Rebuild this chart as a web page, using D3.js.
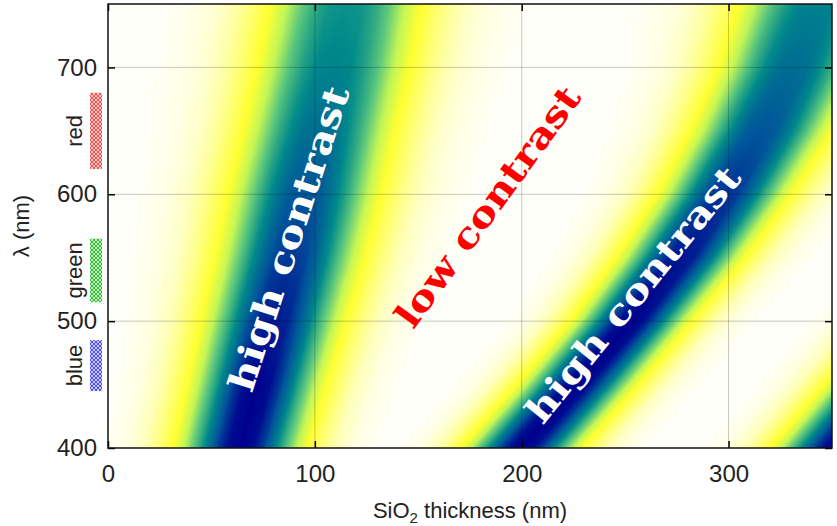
<!DOCTYPE html>
<html>
<head>
<meta charset="utf-8">
<script src="https://cdn.jsdelivr.net/npm/d3@7"></script>
<style>
  body { margin: 0; background: #fff; }
  svg { display: block; }
</style>
</head>
<body>
<div id="chart"></div>
<script>
const lambdaRows = [400, 450, 500, 550, 600, 650, 700, 750]

// SiO2 thickness (nm) at the middle of each dark (high contrast) band
const band1Centre = [64, 72, 80, 88, 95, 102, 109, 115]
const band2Centre = [200, 227, 253, 277, 298, 316, 331, 343]
const band3Centre = [352, 378, 404, 430, 455, 480, 505, 530]

// strongest contrast reached inside each band (0 = none, 1 = max)
const band1Peak = [1, 1, 0.96, 0.91, 0.86, 0.8, 0.74, 0.7]
const band2Peak = [1, 1, 1, 0.97, 0.92, 0.86, 0.8, 0.75]
const band3Peak = [1, 1, 1, 1, 1, 1, 1, 1]

// half width (nm) of each band, measured to the bright yellow edge
const band1Width = [31, 32, 34, 36, 38, 39, 41, 42]
const band2Width = [28, 28, 28, 30, 32, 35, 38, 42]
const band3Width = [30, 30, 30, 30, 30, 30, 30, 30]

// contrast across one band, offset given in half widths from its centre
const profileOffset = [-2.2, -1.8, -1.5, -1.25, -1.05, -0.86, -0.68, -0.5, -0.35, -0.2, 0, 0.2, 0.35, 0.5, 0.68, 0.86, 1.05, 1.25, 1.5, 1.8, 2.2]
const profileLevel = [0, 0.05, 0.11, 0.2, 0.3, 0.44, 0.6, 0.78, 0.9, 0.98, 1, 0.98, 0.9, 0.78, 0.6, 0.44, 0.3, 0.2, 0.11, 0.05, 0]

// colour map: contrast level -> colour
const levelStops = [0, 0.05, 0.12, 0.21, 0.3, 0.42, 0.55, 0.72, 0.86, 1]
const levelColours = ["#fffffa", "#ffffe4", "#ffffb4", "#ffff6c", "#ffff30", "#c4f656", "#5ec87c", "#008a8a", "#00559a", "#00008e"]

// axis ticks
const xTicks = [0, 100, 200, 300]
const yTicks = [400, 500, 600, 700]

// colour bands marked on the left of the axis
const swatchNames = ["red", "green", "blue"]
const swatchFrom = [620, 515, 445]
const swatchTo = [680, 565, 485]
const swatchColours = ["#f04848", "#30c030", "#4848f0"]

// annotations written on the map
const noteText = ["high contrast", "low contrast", "high contrast"]
const noteThickness = [93.2, 188.5, 258.6]
const noteLambda = [562, 584.5, 515]
const noteAngle = [-72, -54, -51]
const noteColour = ["#ffffff", "#ff0000", "#ffffff"]
const noteLength = [318, 288, 318]

var width = 837, height = 526
var margin = {top: 4, right: 5, bottom: 78, left: 108}

var svg = d3.select("#chart")
  .append("svg")
  .attr("width", width)
  .attr("height", height)

// Build scales
var xScale = d3.scaleLinear()
  .domain([0, 350])
  .range([margin.left, width - margin.right])
var yScale = d3.scaleLinear()
  .domain([400, 750])
  .range([height - margin.bottom, margin.top])

// band description -> scales over wavelength
var profile = d3.scaleLinear().domain(profileOffset).range(profileLevel).clamp(true)
var bands = [
  [band1Centre, band1Peak, band1Width],
  [band2Centre, band2Peak, band2Width],
  [band3Centre, band3Peak, band3Width]
].map(function (b) {
  return {
    centre: d3.scaleLinear().domain(lambdaRows).range(b[0]),
    peak: d3.scaleLinear().domain(lambdaRows).range(b[1]),
    width: d3.scaleLinear().domain(lambdaRows).range(b[2])
  }
})

var colour = d3.scaleLinear().domain(levelStops).range(levelColours).interpolate(d3.interpolateRgb)
var lut = d3.range(256).map(function (i) { return d3.rgb(colour(i / 255)) })

// paint the map into a canvas, pixel by pixel
var x0 = xScale(0), x1 = xScale(350), y0 = yScale(750), y1 = yScale(400)
var pw = Math.round(x1 - x0), ph = Math.round(y1 - y0)
var canvas = document.createElement("canvas")
canvas.width = pw
canvas.height = ph
var ctx = canvas.getContext("2d")
var img = ctx.createImageData(pw, ph)

for (let py = 0; py < ph; py++) {
  var lam = yScale.invert(y0 + py + 0.5)
  var rows = bands.map(function (b) {
    return {c: b.centre(lam), p: b.peak(lam), w: b.width(lam)}
  })
  for (let px = 0; px < pw; px++) {
    var d = xScale.invert(x0 + px + 0.5)
    var level = 0
    for (let k = 0; k < rows.length; k++) {
      var v = rows[k].p * profile((d - rows[k].c) / rows[k].w)
      if (v > level) level = v
    }
    var c = lut[Math.round(level * 255)]
    var idx = (py * pw + px) * 4
    img.data[idx] = c.r
    img.data[idx + 1] = c.g
    img.data[idx + 2] = c.b
    img.data[idx + 3] = 255
  }
}
ctx.putImageData(img, 0, 0)

svg.append("image")
  .attr("href", canvas.toDataURL())
  .attr("x", x0)
  .attr("y", y0)
  .attr("width", x1 - x0)
  .attr("height", y1 - y0)
  .attr("preserveAspectRatio", "none")

// grid lines
svg.append("g")
  .selectAll("line")
  .data(xTicks.filter(function (t) { return t > 0 }))
  .join("line")
  .attr("x1", function (d) { return xScale(d) })
  .attr("x2", function (d) { return xScale(d) })
  .attr("y1", y0)
  .attr("y2", y1)
  .style("stroke", "#000")
  .style("stroke-opacity", 0.22)
  .style("stroke-width", 1)
svg.append("g")
  .selectAll("line")
  .data(yTicks.filter(function (t) { return t > 400 }))
  .join("line")
  .attr("x1", x0)
  .attr("x2", x1)
  .attr("y1", function (d) { return yScale(d) })
  .attr("y2", function (d) { return yScale(d) })
  .style("stroke", "#000")
  .style("stroke-opacity", 0.22)
  .style("stroke-width", 1)

// annotations
svg.append("g")
  .selectAll("text")
  .data(noteText)
  .join("text")
  .attr("transform", function (d, i) {
    return "translate(" + xScale(noteThickness[i]) + "," + yScale(noteLambda[i]) + ") rotate(" + noteAngle[i] + ")"
  })
  .attr("text-anchor", "middle")
  .attr("textLength", function (d, i) { return noteLength[i] })
  .attr("lengthAdjust", "spacingAndGlyphs")
  .style("font", "bold 36px 'DejaVu Serif'")
  .style("fill", function (d, i) { return noteColour[i] })
  .text(function (d) { return d })

// axes, ticks pointing inwards
function styleAxis (g) {
  g.select(".domain").remove()
  g.selectAll(".tick line").style("stroke", "#000").style("stroke-width", 1.5)
  g.selectAll("text")
    .attr("font-size", 24)
    .attr("font-family", "'Liberation Sans', Arial, sans-serif")
    .style("fill", "#222")
}
svg.append("g")
  .attr("transform", "translate(0," + y1 + ")")
  .call(d3.axisBottom(xScale).tickValues(xTicks).tickSizeInner(-7).tickSizeOuter(0).tickPadding(17))
  .call(styleAxis)
svg.append("g")
  .attr("transform", "translate(" + x0 + ",0)")
  .call(d3.axisLeft(yScale).tickValues(yTicks).tickSizeInner(-7).tickSizeOuter(0).tickPadding(11))
  .call(styleAxis)
svg.append("g")
  .attr("transform", "translate(0," + y0 + ")")
  .call(d3.axisTop(xScale).tickValues(xTicks).tickSizeInner(-7).tickSizeOuter(0).tickFormat(""))
  .call(styleAxis)
svg.append("g")
  .attr("transform", "translate(" + x1 + ",0)")
  .call(d3.axisRight(yScale).tickValues(yTicks).tickSizeInner(-7).tickSizeOuter(0).tickFormat(""))
  .call(styleAxis)

// frame
svg.append("rect")
  .attr("x", x0)
  .attr("y", y0)
  .attr("width", x1 - x0)
  .attr("height", y1 - y0)
  .style("fill", "none")
  .style("stroke", "#111")
  .style("stroke-width", 1.5)

// hatched swatches for the colour bands
var defs = svg.append("defs")
swatchColours.forEach(function (col, i) {
  var p = defs.append("pattern")
    .attr("id", "hatch" + i)
    .attr("patternUnits", "userSpaceOnUse")
    .attr("width", 4)
    .attr("height", 4)
  p.append("rect").attr("width", 4).attr("height", 4).style("fill", "#fff")
  ;[[0, 0], [4, 0], [0, 4], [4, 4], [2, 2]].forEach(function (c) {
    p.append("circle")
      .attr("cx", c[0]).attr("cy", c[1]).attr("r", 1.6)
      .style("fill", "none")
      .style("stroke", col)
      .style("stroke-width", 0.9)
  })
})

svg.append("g")
  .selectAll("rect")
  .data(swatchNames)
  .join("rect")
  .attr("x", 90)
  .attr("width", 12)
  .attr("y", function (d, i) { return yScale(swatchTo[i]) })
  .attr("height", function (d, i) { return yScale(swatchFrom[i]) - yScale(swatchTo[i]) })
  .style("fill", function (d, i) { return "url(#hatch" + i + ")" })

svg.append("g")
  .selectAll("text")
  .data(swatchNames)
  .join("text")
  .attr("transform", function (d, i) {
    return "translate(82," + yScale((swatchFrom[i] + swatchTo[i]) / 2) + ") rotate(-90)"
  })
  .attr("text-anchor", "middle")
  .style("font", "22px 'Liberation Sans', Arial, sans-serif")
  .style("fill", "#222")
  .text(function (d) { return d })

// axis titles
var xTitle = svg.append("text")
  .attr("x", (x0 + x1) / 2)
  .attr("y", 518)
  .attr("text-anchor", "middle")
  .style("font", "22px 'Liberation Sans', Arial, sans-serif")
  .style("fill", "#222")
xTitle.append("tspan").text("SiO")
xTitle.append("tspan").attr("dy", 5).style("font-size", "15px").text("2")
xTitle.append("tspan").attr("dy", -5).text(" thickness (nm)")

svg.append("text")
  .attr("transform", "translate(29," + (y0 + y1) / 2 + ") rotate(-90)")
  .attr("text-anchor", "middle")
  .style("font", "22px 'Liberation Sans', Arial, sans-serif")
  .style("fill", "#222")
  .text("λ (nm)")
</script>
</body>
</html>
